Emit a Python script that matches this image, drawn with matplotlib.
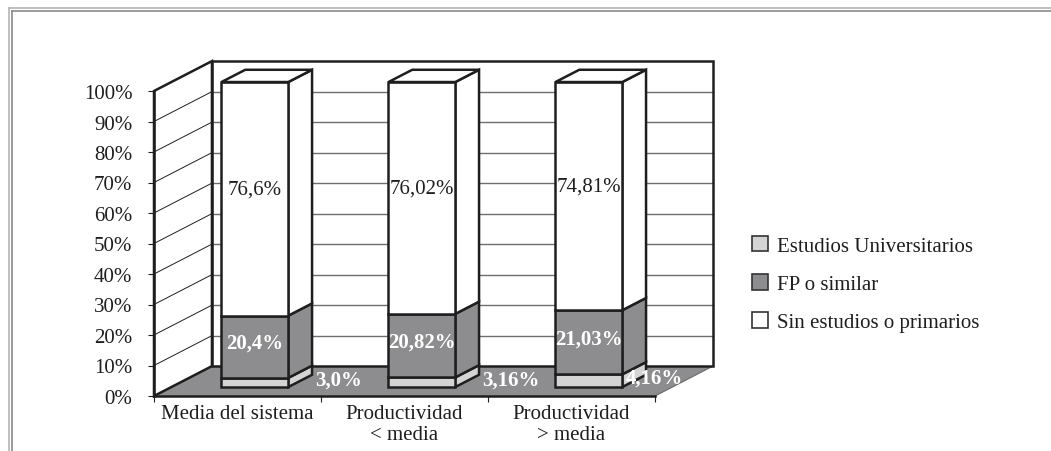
import matplotlib
matplotlib.use("Agg")
import matplotlib.pyplot as plt
from matplotlib.patches import Polygon, Patch
from matplotlib.lines import Line2D

plt.rcParams['font.family'] = ['Liberation Serif', 'DejaVu Serif']

# data (percent per group)
categories = ['Media del sistema', 'Productividad\n< media', 'Productividad\n> media']
univ = [3.0, 3.16, 4.16]
fp = [20.4, 20.82, 21.03]
sin_est = [76.6, 76.02, 74.81]
univ_labels = ['3,0%', '3,16%', '4,16%']
fp_labels = ['20,4%', '20,82%', '21,03%']
sin_labels = ['76,6%', '76,02%', '74,81%']
series_names = ['Estudios Universitarios', 'FP o similar', 'Sin estudios o primarios']

# look
C_UNIV = '#d4d4d4'
C_FP = '#8d8d8f'
C_SIN = '#ffffff'
C_FLOOR = '#8d8d8f'
EDGE = '#1e1e1e'
LW = 1.8
FS = 15

# fake 3d depth, in data units (x: categories, y: percent)
DX = 0.347
DY = 9.8
BW = 0.4
Z0, Z1 = 0.30, 0.71


def proj(x, y, z):
    return (x + z * DX, y + z * DY)


W, H = 1051, 452
fig = plt.figure(figsize=(W / 100, H / 100), dpi=100)
ax = fig.add_axes([154 / W, (H - 397) / H, 501 / W, 305 / H])
ax.set_xlim(-0.5, 2.5)
ax.set_ylim(0, 100)
ax.patch.set_visible(False)

xl, xr = -0.5, 2.5

# floor
floor = Polygon([proj(xl, 0, 0), proj(xr, 0, 0), proj(xr, 0, 1), proj(xl, 0, 1)],
                closed=True, facecolor=C_FLOOR, edgecolor='none', zorder=1, clip_on=False)
ax.add_patch(floor)
ax.plot(*zip(proj(xr, 0, 0), proj(xr, 0, 1)), color='#6a6a6a', lw=0.8, zorder=1.1, clip_on=False)

# back wall
back = Polygon([proj(xl, 0, 1), proj(xr, 0, 1), proj(xr, 100, 1), proj(xl, 100, 1)],
               closed=True, facecolor='white', edgecolor='none', zorder=1.2, clip_on=False)
ax.add_patch(back)
for yv in range(10, 100, 10):
    ax.plot(*zip(proj(xl, yv, 1), proj(xr, yv, 1)), color='#6e6e6e', lw=1.0, zorder=1.3, clip_on=False)
ax.add_patch(Polygon([proj(xl, 0, 1), proj(xr, 0, 1), proj(xr, 100, 1), proj(xl, 100, 1)],
                     closed=True, fill=False, edgecolor=EDGE, lw=LW, zorder=1.4, clip_on=False))

# left wall
left = Polygon([proj(xl, 0, 0), proj(xl, 0, 1), proj(xl, 100, 1), proj(xl, 100, 0)],
               closed=True, facecolor='white', edgecolor=EDGE, lw=LW, zorder=1.2, clip_on=False)
ax.add_patch(left)
for yv in range(10, 100, 10):
    ax.plot(*zip(proj(xl, yv, 0), proj(xl, yv, 1)), color='#1e1e1e', lw=0.7, zorder=1.3, clip_on=False)


def box_faces(x0, x1, b, t, color, top=False):
    front = [proj(x0, b, Z0), proj(x1, b, Z0), proj(x1, t, Z0), proj(x0, t, Z0)]
    side = [proj(x1, b, Z0), proj(x1, b, Z1), proj(x1, t, Z1), proj(x1, t, Z0)]
    for pts in (side, front):
        ax.add_patch(Polygon(pts, closed=True, facecolor=color, edgecolor=EDGE,
                             lw=LW, zorder=3, clip_on=False, joinstyle='miter'))
    if top:
        tp = [proj(x0, t, Z0), proj(x1, t, Z0), proj(x1, t, Z1), proj(x0, t, Z1)]
        ax.add_patch(Polygon(tp, closed=True, facecolor=color, edgecolor=EDGE,
                             lw=LW, zorder=3, clip_on=False, joinstyle='miter'))


univ_dx = [0.50, 0.53, 0.39]

for i in range(len(categories)):
    x0, x1 = i - BW / 2, i + BW / 2
    xc = proj(i, 0, Z0)[0]
    b = 0
    box_faces(x0, x1, b, b + univ[i], C_UNIV)
    ax.text(xc + univ_dx[i], proj(0, b + univ[i] / 2, Z0)[1] + 1.0, univ_labels[i],
            ha='center', va='center', color='white', fontweight='bold', fontsize=FS, zorder=5)
    b += univ[i]
    box_faces(x0, x1, b, b + fp[i], C_FP)
    ax.text(xc, proj(0, b + fp[i] / 2, Z0)[1] + 1.3, fp_labels[i],
            ha='center', va='center', color='white', fontweight='bold', fontsize=FS, zorder=5)
    b += fp[i]
    box_faces(x0, x1, b, b + sin_est[i], C_SIN, top=True)
    ax.text(xc, proj(0, b + sin_est[i] / 2, Z0)[1] + 3.2, sin_labels[i],
            ha='center', va='center', color='#1e1e1e', fontsize=FS, zorder=5)

# axes spines / ticks
for s in ('top', 'right'):
    ax.spines[s].set_visible(False)
for s in ('left', 'bottom'):
    ax.spines[s].set_linewidth(LW)
    ax.spines[s].set_color(EDGE)
    ax.spines[s].set_zorder(4)

ax.set_yticks(range(0, 101, 10))
ax.set_yticklabels([f'{v}%' for v in range(0, 101, 10)])
ax.tick_params(axis='y', length=4.5, width=0.8, pad=11, labelsize=FS, colors='#1e1e1e')
ax.set_xticks([-0.5, 0.5, 1.5, 2.5])
ax.set_xticklabels([])
ax.set_xticks(range(len(categories)), minor=True)
ax.set_xticklabels(categories, minor=True, fontsize=FS, linespacing=1.15)
ax.tick_params(axis='x', which='major', length=4.5, width=0.8, color='#1e1e1e')
ax.tick_params(axis='x', which='minor', length=0, pad=6, labelcolor='#1e1e1e')

# legend
handles = [Patch(facecolor=c, edgecolor='#333333', lw=1.2) for c in (C_UNIV, C_FP, C_SIN)]
fig.legend(handles, series_names, loc='center left', bbox_to_anchor=(752 / W, (H - 285) / H),
           frameon=False, fontsize=FS, handlelength=0.77, handleheight=0.77,
           handletextpad=0.45, labelspacing=0.88, borderpad=0, borderaxespad=0,
           labelcolor='#1e1e1e')

# outer frame (cut at right/bottom)
fig.add_artist(Line2D([8.5 / W, 1], [1 - 8.5 / H] * 2, color='#b4b4b4', lw=1.2))
fig.add_artist(Line2D([12 / W, 1], [1 - 12 / H] * 2, color='#8a8a8a', lw=1.2))
fig.add_artist(Line2D([8.5 / W] * 2, [0, 1 - 8.5 / H], color='#b4b4b4', lw=1.2))
fig.add_artist(Line2D([12 / W] * 2, [0, 1 - 12 / H], color='#8a8a8a', lw=1.2))

fig.savefig('out.png', dpi=100)
